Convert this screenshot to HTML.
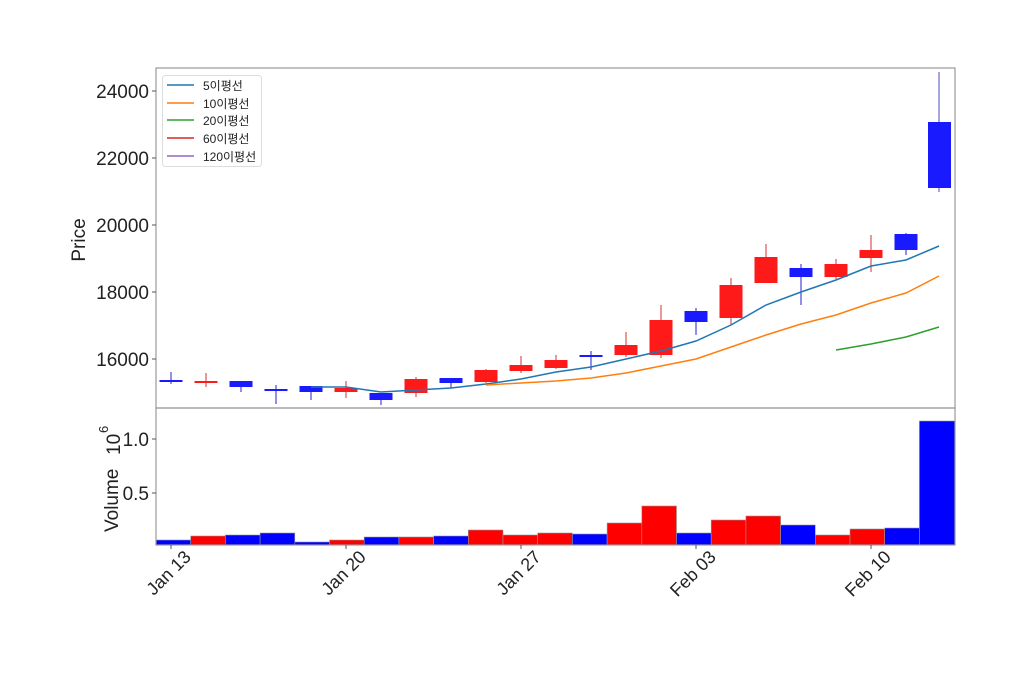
<!DOCTYPE html>
<html><head><meta charset="utf-8"><style>body{margin:0;background:#fff}svg{display:block}</style></head>
<body>
<svg width="1024" height="674" viewBox="0 0 1024 674" xmlns="http://www.w3.org/2000/svg" font-family="'Liberation Sans','Noto Sans CJK KR',sans-serif">
<rect width="1024" height="674" fill="#fff"/>
<!-- volume bars -->
<g stroke="#999" stroke-width="0.6">
<rect x="156" y="540" width="34.7" height="5" fill="#0000ff"/>
<rect x="190.7" y="536" width="34.7" height="9" fill="#ff0000"/>
<rect x="225.4" y="535" width="34.7" height="10" fill="#0000ff"/>
<rect x="260.1" y="533" width="34.7" height="12" fill="#0000ff"/>
<rect x="294.8" y="542" width="34.7" height="3" fill="#0000ff"/>
<rect x="329.5" y="540" width="34.7" height="5" fill="#ff0000"/>
<rect x="364.2" y="537" width="34.7" height="8" fill="#0000ff"/>
<rect x="398.9" y="537" width="34.7" height="8" fill="#ff0000"/>
<rect x="433.6" y="536" width="34.7" height="9" fill="#0000ff"/>
<rect x="468.3" y="530" width="34.7" height="15" fill="#ff0000"/>
<rect x="503" y="535" width="34.7" height="10" fill="#ff0000"/>
<rect x="537.7" y="533" width="34.7" height="12" fill="#ff0000"/>
<rect x="572.4" y="534" width="34.7" height="11" fill="#0000ff"/>
<rect x="607.1" y="523" width="34.7" height="22" fill="#ff0000"/>
<rect x="641.8" y="506" width="34.7" height="39" fill="#ff0000"/>
<rect x="676.5" y="533" width="34.7" height="12" fill="#0000ff"/>
<rect x="711.2" y="520" width="34.7" height="25" fill="#ff0000"/>
<rect x="745.9" y="516" width="34.7" height="29" fill="#ff0000"/>
<rect x="780.6" y="525" width="34.7" height="20" fill="#0000ff"/>
<rect x="815.3" y="535" width="34.7" height="10" fill="#ff0000"/>
<rect x="850" y="529" width="34.7" height="16" fill="#ff0000"/>
<rect x="884.7" y="528" width="34.7" height="17" fill="#0000ff"/>
<rect x="919.4" y="421" width="35.6" height="124" fill="#0000ff"/>
</g>
<!-- wicks -->
<g stroke-width="1.3">
<line x1="171" y1="372" x2="171" y2="384" stroke="#5555dd"/>
<line x1="206" y1="373" x2="206" y2="387" stroke="#e06060"/>
<line x1="241" y1="381" x2="241" y2="392" stroke="#5555dd"/>
<line x1="276" y1="385" x2="276" y2="404" stroke="#5555dd"/>
<line x1="311" y1="386" x2="311" y2="400" stroke="#5555dd"/>
<line x1="346" y1="381" x2="346" y2="398" stroke="#e06060"/>
<line x1="381" y1="393" x2="381" y2="405" stroke="#5555dd"/>
<line x1="416" y1="377" x2="416" y2="397" stroke="#e06060"/>
<line x1="451" y1="378" x2="451" y2="388" stroke="#5555dd"/>
<line x1="486" y1="369" x2="486" y2="383" stroke="#e06060"/>
<line x1="521" y1="356" x2="521" y2="373" stroke="#e06060"/>
<line x1="556" y1="355" x2="556" y2="369" stroke="#e06060"/>
<line x1="591" y1="351" x2="591" y2="370" stroke="#5555dd"/>
<line x1="626" y1="332" x2="626" y2="357" stroke="#e06060"/>
<line x1="661" y1="305" x2="661" y2="358" stroke="#e06060"/>
<line x1="696" y1="308" x2="696" y2="335" stroke="#5555dd"/>
<line x1="731" y1="278" x2="731" y2="325" stroke="#e06060"/>
<line x1="766" y1="244" x2="766" y2="283" stroke="#e06060"/>
<line x1="801" y1="264" x2="801" y2="305" stroke="#5555dd"/>
<line x1="836" y1="259" x2="836" y2="279" stroke="#e06060"/>
<line x1="871" y1="235" x2="871" y2="272" stroke="#e06060"/>
<line x1="906" y1="233" x2="906" y2="255" stroke="#5555dd"/>
<line x1="939" y1="72" x2="939" y2="192" stroke="#7777cc"/>
</g>
<!-- bodies -->
<g>
<rect x="159.5" y="380" width="23" height="2" fill="#1a1aff"/>
<rect x="194.5" y="381" width="23" height="2" fill="#ff1a1a"/>
<rect x="229.5" y="381" width="23" height="6" fill="#1a1aff"/>
<rect x="264.5" y="389" width="23" height="2" fill="#1a1aff"/>
<rect x="299.5" y="386" width="23" height="6" fill="#1a1aff"/>
<rect x="334.5" y="388" width="23" height="4" fill="#ff1a1a"/>
<rect x="369.5" y="393" width="23" height="7" fill="#1a1aff"/>
<rect x="404.5" y="379" width="23" height="14" fill="#ff1a1a"/>
<rect x="439.5" y="378" width="23" height="5" fill="#1a1aff"/>
<rect x="474.5" y="370" width="23" height="12" fill="#ff1a1a"/>
<rect x="509.5" y="365" width="23" height="6" fill="#ff1a1a"/>
<rect x="544.5" y="360" width="23" height="8" fill="#ff1a1a"/>
<rect x="579.5" y="355" width="23" height="2" fill="#1a1aff"/>
<rect x="614.5" y="345" width="23" height="10" fill="#ff1a1a"/>
<rect x="649.5" y="320" width="23" height="35" fill="#ff1a1a"/>
<rect x="684.5" y="311" width="23" height="11" fill="#1a1aff"/>
<rect x="719.5" y="285" width="23" height="33" fill="#ff1a1a"/>
<rect x="754.5" y="257" width="23" height="26" fill="#ff1a1a"/>
<rect x="789.5" y="268" width="23" height="9" fill="#1a1aff"/>
<rect x="824.5" y="264" width="23" height="13" fill="#ff1a1a"/>
<rect x="859.5" y="250" width="23" height="8" fill="#ff1a1a"/>
<rect x="894.5" y="234" width="23" height="16" fill="#1a1aff"/>
<rect x="928" y="122" width="23" height="66" fill="#1a1aff"/>
</g>
<!-- MAs -->
<polyline fill="none" stroke="#1f77b4" stroke-width="1.5" points="311,387 346,387 381,392 416,390 451,388 486,384 521,379 556,372 591,367 626,359 661,351 696,341 731,325 766,305 801,292 836,280 871,266 906,260 939,246"/>
<polyline fill="none" stroke="#ff7f0e" stroke-width="1.5" points="486,385 521,383 556,381 591,378 626,373 661,366 696,359 731,347 766,335 801,324 836,315 871,303 906,293 939,276"/>
<polyline fill="none" stroke="#2ca02c" stroke-width="1.5" points="836,350 871,344 906,337 939,327"/>
<!-- axes frames -->
<rect x="156" y="68" width="799" height="340" fill="none" stroke="#999" stroke-width="1.2"/>
<rect x="156" y="408" width="799" height="137" fill="none" stroke="#999" stroke-width="1.2"/>
<!-- y ticks price -->
<g font-size="19" fill="#222" text-anchor="end">
<line x1="152" y1="91" x2="156" y2="91" stroke="#555"/><text x="149" y="98">24000</text>
<line x1="152" y1="158" x2="156" y2="158" stroke="#555"/><text x="149" y="165">22000</text>
<line x1="152" y1="225" x2="156" y2="225" stroke="#555"/><text x="149" y="232">20000</text>
<line x1="152" y1="292" x2="156" y2="292" stroke="#555"/><text x="149" y="299">18000</text>
<line x1="152" y1="359" x2="156" y2="359" stroke="#555"/><text x="149" y="366">16000</text>
<line x1="152" y1="439" x2="156" y2="439" stroke="#555"/><text x="149" y="446">1.0</text>
<line x1="152" y1="493" x2="156" y2="493" stroke="#555"/><text x="149" y="500">0.5</text>
</g>
<text transform="translate(85,240) rotate(-90)" font-size="19" fill="#222" text-anchor="middle">Price</text>
<text transform="translate(118,532) rotate(-90)" font-size="19" fill="#222">Volume</text>
<text transform="translate(120,455) rotate(-90)" font-size="19" fill="#222">10</text>
<text transform="translate(108,433) rotate(-90)" font-size="13" fill="#222">6</text>
<!-- x ticks -->
<g font-size="18" fill="#222" text-anchor="end" stroke="none">
<line x1="171" y1="545" x2="171" y2="549" stroke="#555"/><text transform="translate(192,558) rotate(-45)">Jan 13</text>
<line x1="346" y1="545" x2="346" y2="549" stroke="#555"/><text transform="translate(367,558) rotate(-45)">Jan 20</text>
<line x1="521" y1="545" x2="521" y2="549" stroke="#555"/><text transform="translate(542,558) rotate(-45)">Jan 27</text>
<line x1="696" y1="545" x2="696" y2="549" stroke="#555"/><text transform="translate(717,558) rotate(-45)">Feb 03</text>
<line x1="871" y1="545" x2="871" y2="549" stroke="#555"/><text transform="translate(892,558) rotate(-45)">Feb 10</text>
</g>
<!-- legend -->
<rect x="162.5" y="75.5" width="99" height="91" rx="3" fill="#fff" stroke="#ddd"/>
<g stroke-width="1.5">
<line x1="167" y1="85" x2="194" y2="85" stroke="#1f77b4"/>
<line x1="167" y1="103" x2="194" y2="103" stroke="#ff7f0e"/>
<line x1="167" y1="120" x2="194" y2="120" stroke="#2ca02c"/>
<line x1="167" y1="138" x2="194" y2="138" stroke="#d62728"/>
<line x1="167" y1="156" x2="194" y2="156" stroke="#9467bd"/>
</g>
<g font-size="12" fill="#222">
<text x="203" y="90">5이평선</text>
<text x="203" y="108">10이평선</text>
<text x="203" y="125">20이평선</text>
<text x="203" y="143">60이평선</text>
<text x="203" y="161">120이평선</text>
</g>
</svg>
</body></html>
